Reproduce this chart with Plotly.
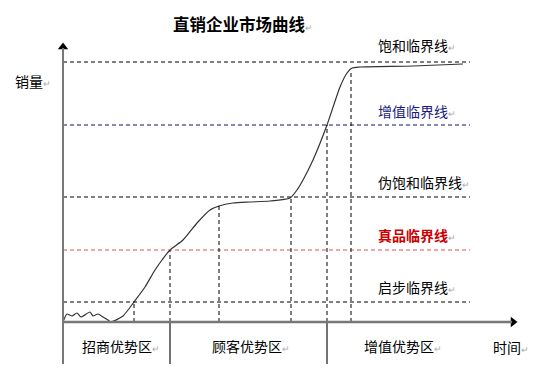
import plotly.graph_objects as go

# Sales curve (time vs sales), in chart units
curve_x = [0, 4, 9, 14, 18, 27, 30, 35, 40, 45, 48, 55, 60, 65, 71, 82, 92, 99, 107,
           120, 134, 147, 156, 170, 187, 207, 227, 234, 240, 250, 264, 277, 284, 289, 297, 350, 400]
curve_y = [0, 8, 6, 9, 5, 10, 6, 8, 5, 2, 0, 3, 6, 12, 20, 35, 52, 62, 72,
           82, 99, 112, 116, 119, 120, 121, 124, 132, 142, 162, 197, 235, 249, 254, 255, 256, 258]

# Critical thresholds
threshold_names = ["饱和临界线", "增值临界线", "伪饱和临界线", "真品临界线", "启步临界线"]
threshold_values = [260, 197, 125, 72, 20]
threshold_colors = ["#000000", "#1a1a80", "#000000", "#cc0000", "#000000"]
threshold_line_colors = ["#000000", "#10106e", "#000000", "#e05050", "#000000"]
threshold_bold = [False, False, False, True, False]
threshold_label_y = [277, 211, 140, 87, 35]

# Vertical guide lines where the curve meets key points
guide_x = [71, 107, 156, 228, 264, 288]
guide_top = [20, 72, 116, 125, 197, 252]

# Zones along the time axis
zone_names = ["招商优势区", "顾客优势区", "增值优势区"]
zone_bounds = [0, 107, 264]
zone_label_x = [17, 147, 299]

title_text = "直销企业市场曲线"
y_label = "销量"
x_label = "时间"

X_END = 407
AX_X = 455
AX_Y = 280
BELOW = -42

# page body has an 8px margin: compensate in the axis ranges
OFF = 8

fig = go.Figure()

shapes = []
for v, c in zip(threshold_values, threshold_line_colors):
    shapes.append(dict(type="line", xref="x", yref="y", x0=0, x1=X_END, y0=v, y1=v,
                       line=dict(color=c, width=1, dash="4px,3px")))
for gx, gt in zip(guide_x, guide_top):
    shapes.append(dict(type="line", xref="x", yref="y", x0=gx, x1=gx, y0=0, y1=gt,
                       line=dict(color="#000000", width=1, dash="4px,3px")))
for zb in zone_bounds[1:]:
    shapes.append(dict(type="line", xref="x", yref="y", x0=zb, x1=zb, y0=0, y1=BELOW,
                       line=dict(color="#444444", width=1.5)))
# axes
shapes.append(dict(type="line", xref="x", yref="y", x0=0, x1=0, y0=BELOW, y1=AX_Y - 6,
                   line=dict(color="#777777", width=2)))
shapes.append(dict(type="line", xref="x", yref="y", x0=0, x1=AX_X - 6, y0=0, y1=0,
                   line=dict(color="#777777", width=2.5)))
fig.update_layout(shapes=shapes)

fig.add_trace(go.Scatter(x=curve_x, y=curve_y, mode="lines",
                         line=dict(color="#333333", width=1.2, shape="spline", smoothing=0.6),
                         hoverinfo="skip"))
# arrowheads
fig.add_trace(go.Scatter(x=[0], y=[AX_Y - 5], mode="markers",
                         marker=dict(symbol="triangle-up", size=9, color="#000000"), hoverinfo="skip"))
fig.add_trace(go.Scatter(x=[AX_X - 5], y=[0], mode="markers",
                         marker=dict(symbol="triangle-right", size=9, color="#000000"), hoverinfo="skip"))

RET = "<span style='color:#aaaaaa;font-size:9px'>↵</span>"
FONT = "Noto Sans CJK SC"

ann = []
ann.append(dict(x=108, y=298, xref="x", yref="y", text="<b>" + title_text + "</b>" + RET,
                showarrow=False, xanchor="left", yanchor="middle",
                font=dict(family=FONT, size=16.5, color="#000000")))
ann.append(dict(x=-50, y=241, xref="x", yref="y", text=y_label + RET,
                showarrow=False, xanchor="left", yanchor="middle",
                font=dict(family=FONT, size=14, color="#000000")))
for name, c, b, ly in zip(threshold_names, threshold_colors, threshold_bold, threshold_label_y):
    t = "<b>" + name + "</b>" if b else name
    ann.append(dict(x=313, y=ly, xref="x", yref="y", text=t + RET,
                    showarrow=False, xanchor="left", yanchor="middle",
                    font=dict(family=FONT, size=14, color=c)))
for name, zx in zip(zone_names, zone_label_x):
    ann.append(dict(x=zx, y=-24, xref="x", yref="y", text=name + RET,
                    showarrow=False, xanchor="left", yanchor="middle",
                    font=dict(family=FONT, size=14, color="#000000")))
ann.append(dict(x=428, y=-25, xref="x", yref="y", text=x_label + RET,
                showarrow=False, xanchor="left", yanchor="middle",
                font=dict(family=FONT, size=14, color="#000000")))

fig.update_layout(
    annotations=ann,
    width=552, height=379,
    margin=dict(l=0, r=0, t=0, b=0),
    paper_bgcolor="white", plot_bgcolor="white",
    showlegend=False,
    xaxis=dict(range=[-63 + OFF, 489 + OFF], visible=False, fixedrange=True),
    yaxis=dict(range=[-57 - OFF, 322 - OFF], visible=False, fixedrange=True),
)

fig.write_html("out.html")
